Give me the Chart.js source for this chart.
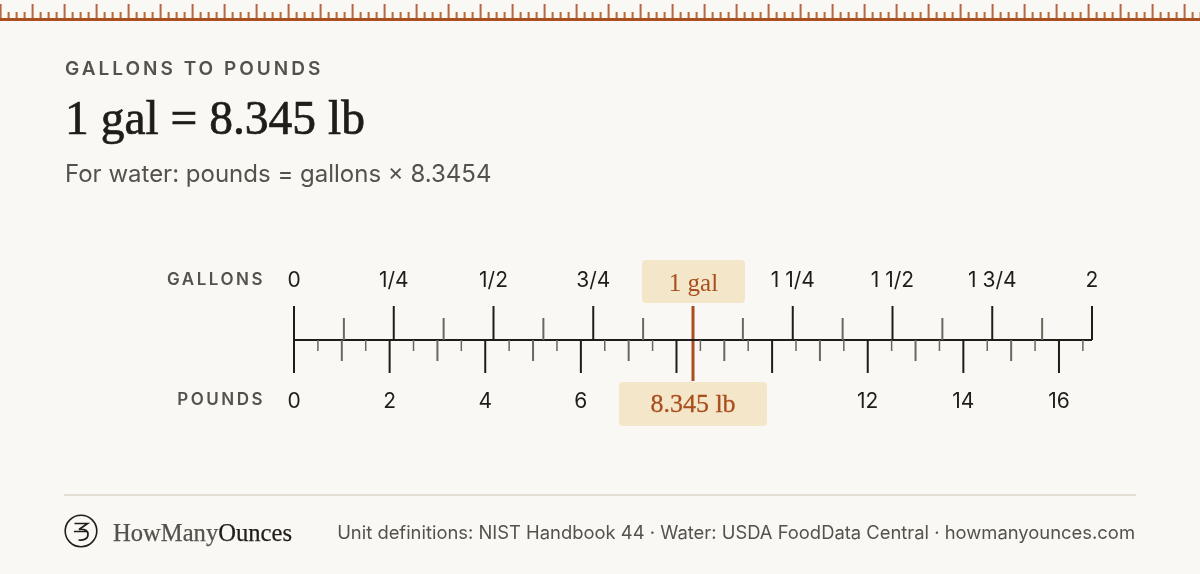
<!DOCTYPE html>
<html><head><meta charset="utf-8">
<style>
html,body{margin:0;padding:0;background:#faf8f4;width:1200px;height:574px;overflow:hidden}
#wrap{position:relative;width:1200px;height:574px}
canvas{position:absolute;left:0;top:0}
.t{position:absolute;white-space:nowrap;line-height:1}
</style></head><body>
<div id="wrap">
<div class="t" style="left:642px;top:260px;width:103px;height:43px;background:#f4e6c9;border-radius:4px"></div>
<div class="t" style="left:619px;top:382px;width:148px;height:44px;background:#f4e6c9;border-radius:4px"></div>
<canvas id="c" width="1200" height="574"></canvas>
<div class="t" style="left:65px;top:57px;font:600 19px Inter;letter-spacing:3px;color:#55524b">GALLONS TO POUNDS</div>
<div class="t" style="left:65px;top:91px;font:400 47.5px 'Liberation Serif';-webkit-text-stroke:.7px #1f1d1a;color:#1f1d1a">1 gal = 8.345 lb</div>
<div class="t" style="left:65px;top:159px;font:400 24px Inter;color:#55524b">For water: pounds = gallons × 8.3454</div>
<div class="t" style="right:935px;top:269px;font:600 17px Inter;letter-spacing:2.5px;color:#55524b">GALLONS</div>
<div class="t" style="right:935px;top:389px;font:600 17px Inter;letter-spacing:2.5px;color:#55524b">POUNDS</div>
<div class="t" style="left:642px;top:260px;width:103px;height:43px;font:400 25px/46px 'Liberation Serif';text-align:center;color:#a94f1f">1 gal</div>
<div class="t" style="left:619px;top:382px;width:148px;height:44px;font:400 26px/44px 'Liberation Serif';-webkit-text-stroke:.3px #a94f1f;text-align:center;color:#a94f1f">8.345 lb</div>
<div class="t" style="left:64px;top:494px;width:1072px;height:2px;background:#e3dfd2"></div>
<svg class="t" style="left:64px;top:514px" width="36" height="36" viewBox="0 0 36 36"><circle cx="17" cy="17" r="15.8" fill="none" stroke="#1f1d1a" stroke-width="1.6"/><path d="M10.5 9.5H23.5L15 15.5C21 14.5 24 17 24 20.5 24 25 19.5 26.5 14.5 26M10 17.5H24" fill="none" stroke="#1f1d1a" stroke-width="1.7"/></svg>
<div class="t" style="left:113px;top:519px;font:400 24.6px 'Liberation Serif';-webkit-text-stroke:.25px #55524b;color:#55524b">HowMany<span style="color:#1f1d1a;-webkit-text-stroke:.25px #1f1d1a">Ounces</span></div>
<div class="t" style="right:65px;top:521px;font:400 18.4px Inter;color:#55524b">Unit definitions: NIST Handbook 44 · Water: USDA FoodData Central · howmanyounces.com</div>
</div>
<script src="https://cdn.jsdelivr.net/npm/chart.js@4"></script>
<script>
const gallonMajor=[0,0.25,0.5,0.75,1.25,1.5,1.75,2];
const gallonMinor=[0.125,0.375,0.625,0.875,1.125,1.375,1.625,1.875];
const poundMajor=[0,2,4,6,8,10,12,14,16];
const poundMid=[1,3,5,7,9,11,13,15];
const poundMinor=[0.5,1.5,2.5,3.5,4.5,5.5,6.5,7.5,8.5,9.5,10.5,11.5,12.5,13.5,14.5,15.5,16.5];
const gallonLabels=["0","1/4","1/2","3/4","","1 1/4","1 1/2","1 3/4","2"];
const poundLabels=["0","2","4","6","","","12","14","16"];
const markerGallons=[1];
const poundsPerGallon=8.3454;
const gallonMax=2;
const INK="#1f1d1a",MID="#6b675f",ACC="#a94f1f";
function ticks(vals,y0,y1){const o=[];vals.forEach(v=>{o.push({x:v,y:y0},{x:v,y:y1},{x:null,y:null})});return o}
const ds=(data,color,w,xAxisID)=>({data,borderColor:color,borderWidth:w,showLine:true,spanGaps:false,pointRadius:0,xAxisID,yAxisID:'y',borderCapStyle:'butt',clip:false});
const strip={id:'strip',beforeDraw(c){const g=c.ctx;g.save();g.fillStyle=ACC;g.fillRect(0,18,1200,3);g.globalAlpha=.85;
for(let i=0;i*8<=1200;i++){const x=i*8;const top=i%4===0?4:12;g.fillRect(x-.4,top,2,18-top)}g.restore()}};
new Chart(document.getElementById('c'),{type:'scatter',plugins:[strip],data:{datasets:[
ds(ticks(gallonMajor,0,34),INK,2,'xg'),
ds(ticks(gallonMinor,0,22),MID,2,'xg'),
ds(ticks(poundMajor,0,-33),INK,2,'xp'),
ds(ticks(poundMid,0,-21),MID,2,'xp'),
ds(ticks(poundMinor,0,-11),MID,1.5,'xp'),
ds([{x:0,y:0},{x:gallonMax,y:0}],INK,2,'xg'),
ds(ticks(markerGallons,34,-41),ACC,3,'xg')
]},options:{responsive:false,animation:false,events:[],
layout:{padding:{left:294,right:108,top:0,bottom:0}},
plugins:{legend:{display:false},tooltip:{enabled:false}},
scales:{
xg:{type:'linear',position:'top',min:0,max:gallonMax,border:{display:false},grid:{display:false},
afterFit(a){a.height=306},
afterBuildTicks(a){a.ticks=gallonLabels.map((_,i)=>({value:i*0.25}))},
ticks:{autoSkip:false,maxRotation:0,padding:5,color:INK,font:{family:'Inter',size:21},callback:(v)=>gallonLabels[Math.round(v/0.25)]}},
xp:{type:'linear',position:'bottom',min:0,max:gallonMax*poundsPerGallon,border:{display:false},grid:{display:false},
afterFit(a){a.height=193},
afterBuildTicks(a){a.ticks=poundLabels.map((_,i)=>({value:i*2}))},
ticks:{autoSkip:false,maxRotation:0,padding:0,color:INK,font:{family:'Inter',size:21},callback:(v)=>poundLabels[Math.round(v/2)]}},
y:{type:'linear',display:false,min:-41,max:34}
}}});
</script>
</body></html>
